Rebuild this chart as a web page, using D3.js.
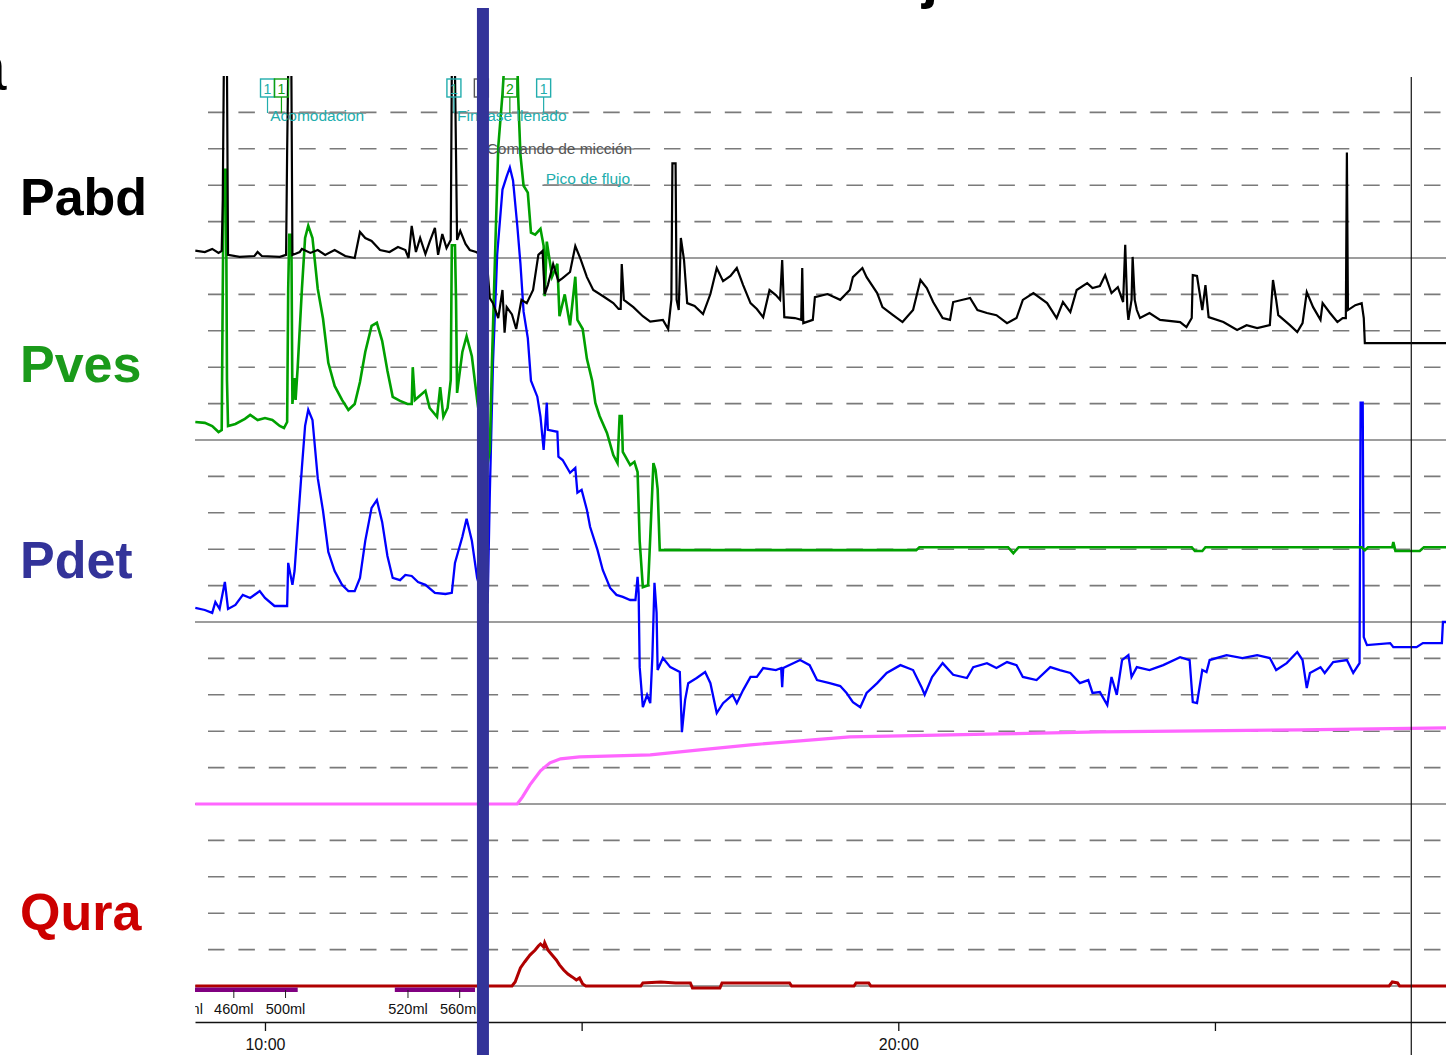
<!DOCTYPE html>
<html><head><meta charset="utf-8">
<script src="https://cdn.jsdelivr.net/npm/d3@7"></script>
<style>
body{margin:0;background:#fff;overflow:hidden}
svg{display:block;font-family:"Liberation Sans",Arial,sans-serif}
</style></head>
<body><svg id="c" width="1446" height="1055"></svg>
<script>
// ---------- DATA (time in seconds, values in lane units: 100 per lane) ----------
const channelLabels = ["Pabd", "Pves", "Pdet", "Qura"];
const pabd = [[534,4.1],[543,3.3],[550,5],[556,2.8],[559,3.9],[560,32],[561,103],[564,103],[565,1.7],[576,0.6],[590,1.1],[593,3.3],[597,1.1],[614,0.6],[620,1.7],[621,59],[622,103],[625,103],[626,1.7],[633,3.3],[635,5],[643,2.8],[650,4.4],[657,1.7],[666,4.4],[676,1.1],[685,0],[690,14.3],[695,11],[701,9.4],[709,4.4],[718,3.3],[726,6],[733,4.4],[736,0],[739,17.6],[743,3.3],[747,11],[752,2.2],[756,8.8],[761,16.5],[764,1.7],[768,13.2],[772,5.5],[776,9.9],[777,103],[780,103],[782,9.9],[785,14.9],[790,7.7],[794,4.4],[800,3.3],[810,0],[813,-22],[816,-24.8],[821,-33],[825,-17.6],[827,-41],[829,-27],[834,-31],[838,-39],[843,-23],[848,-24.8],[854,-17.6],[859,1.7],[863,3.9],[865,-19.8],[868,-14.9],[873,-3.3],[878,-12.7],[882,-11],[889,-7.7],[894,6.6],[899,-0.6],[905,-10.5],[911,-17.6],[920,-20.9],[930,-24.8],[935,-28],[937,-28],[938,-3.3],[940,-23],[949,-27],[958,-32],[965,-35],[977,-34],[982,-39],[985,-23],[986,52],[989,52],[990,-23],[992,-28.6],[994,11],[997,-1.1],[1000,-24.8],[1007,-26.4],[1015,-30.8],[1022,-19.8],[1028,-5.5],[1034,-12.7],[1041,-9.9],[1047,-5.5],[1053,-14.9],[1060,-24.8],[1066,-28],[1072,-32.5],[1078,-17.6],[1084,-20.4],[1088,-23],[1090,-1.1],[1092,-32.5],[1102,-33],[1108,-34],[1109,-5.5],[1110,-35.8],[1119,-34],[1121,-21.5],[1133,-19.8],[1145,-23],[1154,-17.6],[1157,-10.5],[1166,-5.5],[1170,-10.5],[1180,-19.3],[1185,-27],[1195,-31.4],[1204,-35.2],[1214,-28.6],[1221,-12.1],[1227,-16.5],[1233,-24.2],[1242,-33],[1249,-34],[1252,-24.2],[1268,-22],[1275,-28.6],[1284,-30.2],[1293,-31.4],[1303,-35.8],[1312,-33],[1318,-23],[1328,-19.3],[1341,-24.8],[1350,-33],[1356,-24.2],[1363,-29.7],[1369,-17.6],[1379,-13.8],[1384,-16.5],[1391,-15.4],[1396,-9.4],[1402,-19.3],[1408,-16],[1413,-24.2],[1415,7.2],[1417,-28],[1418,-34],[1421,-23],[1422,0.6],[1424,-23],[1426,-28.6],[1429,-33],[1438,-30.2],[1448,-34],[1467,-35.2],[1473,-38],[1478,-33],[1479,-9.4],[1483,-9.9],[1488,-28.6],[1491,-14.9],[1494,-32.5],[1508,-35.2],[1521,-39.6],[1530,-36.9],[1540,-38.5],[1552,-36.9],[1555,-12.1],[1558,-23],[1560,-31.4],[1571,-36.9],[1578,-40.7],[1583,-35.8],[1587,-18.7],[1593,-27],[1600,-34],[1602,-24.8],[1609,-30.2],[1616,-35.2],[1621,-33],[1624,-33],[1625,58],[1626,-28.6],[1633,-25.9],[1639,-24.8],[1641,-33],[1642,-46.8],[1719,-46.8]];
const pves = [[534,9.9],[543,9.4],[550,7.7],[556,4.4],[559,5.5],[560,83],[561,148.5],[563,148.5],[564,33],[565,7.7],[572,8.8],[581,11.6],[586,13.8],[593,11],[600,12.1],[607,11],[614,7.7],[618,6.6],[621,9.9],[622,83],[623,112.8],[625,112.8],[626,19.8],[628,34],[629,22],[631,40],[635,83],[638,111],[641,117.7],[645,111],[650,83],[655,66.6],[660,42.4],[666,29.7],[673,22],[679,16.5],[685,19.8],[690,31.9],[695,48.4],[701,62.7],[706,64.4],[711,54.5],[716,38],[721,23.7],[728,21.5],[735,19.8],[739,19.8],[740,40],[742,22],[752,27],[756,17.6],[763,12.7],[766,29],[769,12.7],[773,17.6],[776,33],[777,107],[780,107],[781,77],[782,25.9],[787,48.4],[791,57],[796,46],[801,22],[810,-16.5],[813,-5.5],[815,41.8],[818,101.8],[821,161],[825,190],[827,209],[839,209],[840,187],[842,156.8],[845,139.7],[849,135.9],[852,113.9],[856,112.8],[861,116],[864,106.7],[865,79],[867,109],[872,89.7],[877,96.8],[879,68],[884,80],[889,63],[894,89.7],[896,66],[901,61],[905,44.6],[910,32.5],[913,20.4],[917,13.2],[924,3.9],[930,-8.3],[934,-12.7],[936,13.2],[938,13.2],[939,-6.6],[946,-13.8],[950,-12],[953,-17.6],[955,-55.6],[958,-80.9],[963,-79.8],[965,-53.4],[968,-12.7],[970,-16.5],[972,-27],[974,-60.5],[1217,-60.5],[1220,-58.9],[1304,-58.9],[1309,-62.2],[1314,-58.9],[1478,-58.9],[1481,-61],[1488,-61],[1491,-58.9],[1639,-58.9],[1642,-60.5],[1645,-58.9],[1668,-58.9],[1669,-56],[1671,-61],[1694,-61],[1698,-58.9],[1719,-58.9]];
const pdet = [[534,7.7],[543,6.6],[550,5],[553,11],[557,7.2],[562,22],[565,7.2],[572,9.4],[579,14.9],[586,13.2],[595,17],[600,13.2],[609,8.8],[621,8.8],[622,32.5],[626,20.4],[628,28],[631,52.8],[635,85],[638,107.8],[641,116.6],[645,111],[650,79],[655,61],[660,38.5],[666,28],[673,20.4],[679,17],[685,17],[690,24.2],[695,44.6],[701,62.7],[706,67],[711,55],[716,36.3],[721,24.2],[728,23],[733,25.9],[739,25.3],[745,22],[752,20.4],[761,16],[771,15.4],[777,16],[780,32.5],[787,46.8],[791,56.7],[796,44.6],[801,24.2],[807,12.1],[811,11],[813,70.4],[816,142],[820,202],[825,237.6],[829,244.8],[832,249.7],[835,242.6],[839,218],[842,197],[845,170.5],[849,156],[852,132.6],[858,123.8],[861,112.8],[864,94.6],[867,120.5],[868,105.6],[877,104.5],[878,90.8],[882,89],[889,82],[894,84.7],[896,71],[900,72.6],[905,61.6],[908,52.3],[915,39.6],[920,28.6],[927,18.7],[933,14.9],[939,13.8],[946,12.1],[951,12.1],[953,24.8],[954,16],[955,-24.8],[958,-46.8],[962,-40],[965,-44.6],[967,-19.3],[969,21.5],[971,5],[972,-26.4],[977,-19.8],[984,-24.8],[993,-27.5],[995,-60.5],[998,-42.9],[1001,-33.6],[1009,-30.8],[1017,-27.5],[1022,-33.6],[1028,-50],[1034,-44.6],[1043,-40],[1047,-44.6],[1053,-37.4],[1060,-30.2],[1066,-30.2],[1072,-25.3],[1084,-26.4],[1089,-25.3],[1090,-35.8],[1091,-25.3],[1107,-20.9],[1116,-23.7],[1123,-31.9],[1135,-33.6],[1145,-35.2],[1151,-39],[1157,-44],[1164,-46.8],[1170,-39],[1180,-33.6],[1189,-28],[1202,-23.7],[1214,-26.4],[1222,-35.8],[1225,-40],[1232,-30.2],[1242,-22.6],[1252,-29],[1265,-30.8],[1271,-24.8],[1284,-22.6],[1293,-25.3],[1303,-22],[1312,-23.7],[1318,-30.2],[1331,-31.9],[1344,-24.8],[1353,-26.4],[1363,-28],[1372,-33.6],[1380,-31.9],[1384,-39],[1391,-38.5],[1398,-45.6],[1402,-30.2],[1407,-40],[1412,-20.9],[1418,-18.2],[1421,-30.2],[1426,-24.8],[1438,-26.4],[1451,-23.7],[1467,-19.3],[1476,-20.9],[1479,-44],[1483,-44.6],[1488,-26.4],[1492,-27.5],[1495,-20.9],[1511,-18.2],[1526,-19.8],[1540,-18.2],[1552,-19.8],[1558,-26.4],[1568,-22.6],[1578,-16.5],[1583,-20.9],[1587,-36.3],[1590,-28],[1600,-24.8],[1604,-28],[1612,-22],[1625,-20.9],[1631,-28],[1637,-22.6],[1638,120.5],[1640,120.5],[1641,-8.3],[1644,-12.7],[1666,-11.6],[1669,-13.8],[1691,-13.8],[1697,-11.6],[1715,-11.6],[1716,0],[1719,0]];
const vinfus = [[534,0],[839,0],[844,3.9],[851,10.5],[861,18.2],[870,22.6],[880,24.8],[898,25.9],[965,27],[1012,29.7],[1060,32.5],[1107,34.7],[1154,36.9],[1202,37.4],[1296,38.5],[1391,39.6],[1486,40.2],[1581,40.7],[1719,41.8]];
const qura = [[534,0],[834,0],[837,2.2],[842,9.9],[846,13.2],[851,17],[856,19.8],[859,22],[861,23.1],[864,21.5],[865,23.7],[868,19.8],[872,17],[876,14.3],[879,11.6],[883,8.8],[887,6.6],[891,5],[895,3.3],[898,4.4],[901,1.1],[904,0],[956,0],[958,1.7],[975,2.2],[989,1.7],[1003,1.7],[1005,-1.1],[1031,-1.1],[1033,1.7],[1097,1.7],[1099,0],[1158,0],[1160,1.7],[1172,1.7],[1174,0],[1665,0],[1668,2.2],[1673,1.7],[1675,0],[1719,0]];

const timeTicks = [600, 900, 1200, 1500];
const timeTickLabels = ["10:00", "", "20:00", ""];
const volumeTimes = [522, 570, 619, 735, 784];
const volumeLabels = ["420ml", "460ml", "500ml", "520ml", "560ml"];
const fillingPeriods = [[533.7, 631], [723, 799]];

const markerTimes = [602.4, 615.6, 779, 805, 832, 864];
const markerLabels = ["1", "1", "1", "", "2", "1"];
const markerKinds = ["event", "pump", "event", "cmd", "pump", "event"];
const annotationTimes = [605, 782, 810, 866];
const annotationTexts = ["Acomodacion", "Fin fase llenado", "Comando de micción", "Pico de flujo"];
const annotationKinds = ["event", "event", "cmd", "event"];
const voidCommandTime = 806.5;
const cursorTime = 1686;

// ---------- LAYOUT / STYLE ----------
const W = 1446, H = 1055, L = 195, R = 1446, laneH = 182;
const laneBases = [258, 440, 622, 804, 986];
const axisY = 1022;
const kindColor = {event: "#22adad", pump: "#10a010", cmd: "#555555"};
const fontFam = '"Liberation Sans", Arial, sans-serif';

const svg = d3.select("#c");
const x = d3.scaleLinear().domain([533.7, 1718.9]).range([L, R]);
const yFor = base => d3.scaleLinear().domain([0, 100]).range([base, base - laneH]);

const defs = svg.append("defs");
defs.append("clipPath").attr("id", "plotClip")
  .append("rect").attr("x", L).attr("y", 76).attr("width", R - L).attr("height", axisY - 76);
defs.append("clipPath").attr("id", "volClip")
  .append("rect").attr("x", L).attr("y", 980).attr("width", R - L).attr("height", 50);

// grid
const grid = svg.append("g");
laneBases.forEach(b => {
  for (let k = 1; k <= 4; k++) {
    const yy = b - laneH + k * laneH / 5;
    grid.append("line").attr("x1", 208).attr("x2", R).attr("y1", yy).attr("y2", yy)
      .attr("stroke", "#7a7a7a").attr("stroke-width", 1.6).attr("stroke-dasharray", "16.5,13.9");
  }
  grid.append("line").attr("x1", L).attr("x2", R).attr("y1", b).attr("y2", b)
    .attr("stroke", "#3c3c3c").attr("stroke-width", 1.2);
});

// annotation underline layer (below traces)
const annLines = svg.append("g");

// traces
const traces = svg.append("g").attr("clip-path", "url(#plotClip)");
const series = [
  {data: vinfus, base: 804, color: "#ff66ff", w: 3.2},
  {data: qura, base: 986, color: "#b00000", w: 3},
  {data: pdet, base: 622, color: "#0000ff", w: 2.3},
  {data: pves, base: 440, color: "#00a000", w: 2.6},
  {data: pabd, base: 258, color: "#000000", w: 2.2}
];
series.forEach(s => {
  const y = yFor(s.base);
  const line = d3.line().x(d => x(d[0])).y(d => y(d[1]));
  traces.append("path").datum(s.data).attr("d", line).attr("fill", "none")
    .attr("stroke", s.color).attr("stroke-width", s.w).attr("stroke-linejoin", "miter");
});

// filling periods (purple bars under flow baseline)
svg.append("g").selectAll("rect").data(fillingPeriods).join("rect")
  .attr("x", d => x(d[0])).attr("width", d => x(d[1]) - x(d[0]))
  .attr("y", 987.5).attr("height", 4.5).attr("fill", "#800080");

// volume axis
const volAxis = d3.axisBottom(x).tickValues(volumeTimes)
  .tickFormat((d, i) => volumeLabels[i]).tickSize(8).tickPadding(6);
const va = svg.append("g").attr("clip-path", "url(#volClip)")
  .append("g").attr("transform", "translate(0,990)").call(volAxis);
va.select(".domain").remove();
va.selectAll(".tick line").attr("stroke", "#222");
va.selectAll("text").attr("font-size", 14.5).attr("fill", "#111").attr("font-family", fontFam);

// time axis
const tAxis = d3.axisBottom(x).tickValues(timeTicks)
  .tickFormat((d, i) => timeTickLabels[i]).tickSize(9).tickSizeOuter(0).tickPadding(8);
const ta = svg.append("g").attr("transform", `translate(0,${axisY})`).call(tAxis);
ta.select(".domain").attr("stroke", "#111").attr("stroke-width", 1.3);
ta.selectAll(".tick line").attr("stroke", "#111").attr("stroke-width", 1.3);
ta.selectAll("text").attr("font-size", 16).attr("fill", "#111").attr("font-family", fontFam);

// cursor line
svg.append("line").attr("x1", x(cursorTime)).attr("x2", x(cursorTime)).attr("y1", 77).attr("y2", H)
  .attr("stroke", "#111").attr("stroke-width", 1.2);

// markers (numbered boxes)
const mk = svg.append("g");
markerTimes.forEach((t, i) => {
  const cx = x(t), col = kindColor[markerKinds[i]];
  mk.append("line").attr("x1", cx).attr("x2", cx).attr("y1", 97).attr("y2", 113)
    .attr("stroke", col).attr("stroke-width", 1.2);
  mk.append("rect").attr("x", cx - 7).attr("y", 79).attr("width", 14).attr("height", 18)
    .attr("fill", "none").attr("stroke", col).attr("stroke-width", 1.4);
  mk.append("text").attr("x", cx).attr("y", 94).attr("text-anchor", "middle")
    .attr("font-size", 14).attr("fill", col).text(markerLabels[i]);
});

// annotation texts
const annRows = [113, 113, 149, 185];
const annBase = [120.5, 120.5, 153.5, 184];
const annText = svg.append("g");
annotationTimes.forEach((t, i) => {
  const tx = annText.append("text").attr("x", x(t)).attr("y", annBase[i])
    .attr("font-size", 15.5).attr("fill", kindColor[annotationKinds[i]]).text(annotationTexts[i]);
  const len = tx.node().getComputedTextLength();
  annLines.append("line").attr("x1", x(t) - 2).attr("x2", x(t) + len + 2)
    .attr("y1", annRows[i]).attr("y2", annRows[i]).attr("stroke", "#8a8a8a").attr("stroke-width", 1.3);
});

// void command bar
svg.append("rect").attr("x", x(voidCommandTime) - 6).attr("width", 12).attr("y", 8).attr("height", H - 8)
  .attr("fill", "#333399");

// channel labels
const labelColors = ["#000000", "#1a9a1a", "#333399", "#cc0000"];
const labelY = [215, 382, 578, 930];
channelLabels.forEach((lab, i) => {
  svg.append("text").attr("x", 20).attr("y", labelY[i]).attr("font-size", 52).attr("font-weight", "bold")
    .attr("fill", labelColors[i]).text(lab);
});

// title fragments clipped at the top edge, as in the reference
svg.append("text").attr("x", -30).attr("y", 90).attr("font-size", 66).attr("fill", "#000").text("a");
svg.append("text").attr("x", 922).attr("y", -3).attr("font-size", 58).attr("font-weight", "bold").attr("fill", "#000").text("j");
</script>
</body></html>
